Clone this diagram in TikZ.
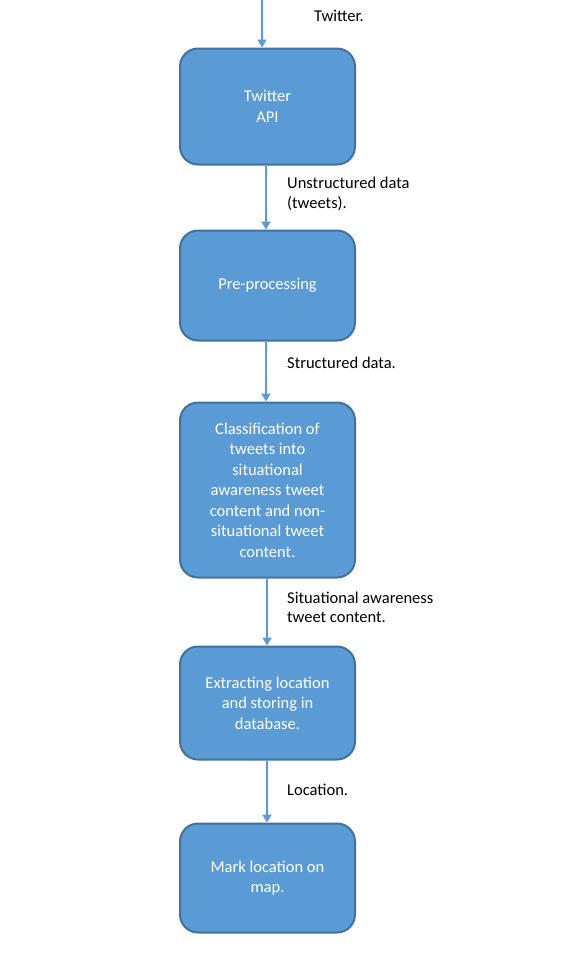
\documentclass[tikz,border=0pt]{standalone}
\usepackage{fontspec}
\setmainfont{Carlito}
\usetikzlibrary{arrows.meta,positioning}
\definecolor{boxfill}{HTML}{5B9BD5}
\definecolor{boxedge}{HTML}{41719C}
\definecolor{arrowc}{HTML}{5B9BD5}
\tikzset{
  x=1pt, y=-1pt,
  stepbox/.style={draw=boxedge, line width=2pt, fill=boxfill, rounded corners=18pt,
    minimum width=175pt, text=white, align=center,
    font=\fontsize{16.5}{20.5}\selectfont, inner sep=0pt},
  flow/.style={draw=arrowc, line width=2pt, -{Triangle[width=9pt,length=8pt]}},
  lbl/.style={anchor=west, align=left, text=black, font=\fontsize{16.5}{19.5}\selectfont, inner sep=0pt}
}
\begin{document}
\begin{tikzpicture}
\useasboundingbox (0,0) rectangle (573,959);
\node[stepbox, minimum height=116pt] (b1) at (267.5,106.5) {Twitter\\API};
\node[stepbox, minimum height=110pt] (b2) at (267.5,285.5) {Pre-processing};
\node[stepbox, minimum height=175pt] (b3) at (267.5,490) {Classification of\\tweets into\\situational\\awareness tweet\\content and non-\\situational tweet\\content.};
\node[stepbox, minimum height=113pt] (b4) at (267.5,703) {Extracting location\\and storing in\\database.};
\node[stepbox, minimum height=109pt] (b5) at (267.5,878) {Mark location on\\map.};
\coordinate (top) at (262,0);
\draw[flow] (top) -- (top |- b1.north);
\draw[flow] ([xshift=-1.5pt]b1.south) -- ([xshift=-1.5pt]b2.north);
\draw[flow] ([xshift=-1.5pt]b2.south) -- ([xshift=-1.5pt]b3.north);
\draw[flow] ([xshift=-0.5pt]b3.south) -- ([xshift=-0.5pt]b4.north);
\draw[flow] ([xshift=-0.5pt]b4.south) -- ([xshift=-0.5pt]b5.north);
\node[lbl] (l1) at (314,16) {Twitter.};
\node[lbl] (l2) at (287,194) {Unstructured data\\(tweets).};
\node[lbl] (l3) at (287,363) {Structured data.};
\node[lbl] (l4) at (287,607.5) {Situational awareness\\tweet content.};
\node[lbl] (l5) at (287,790) {Location.};
\end{tikzpicture}
\end{document}
